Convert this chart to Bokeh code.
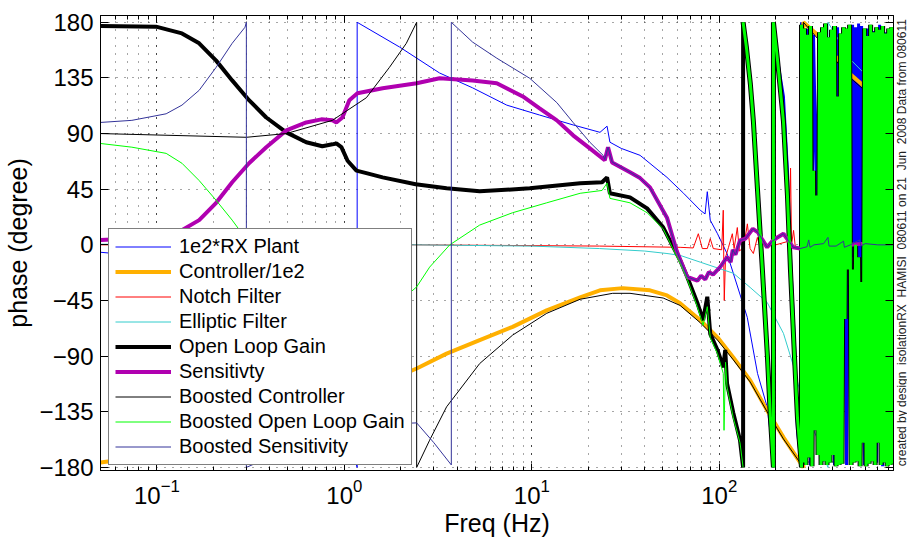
from math import pi

from bokeh.embed import file_html
from bokeh.layouts import row
from bokeh.models import FixedTicker, Label, LinearAxis, LogAxis, LogTicker
from bokeh.plotting import figure
from bokeh.resources import INLINE

FONT = "Liberation Sans"

# ---------------------------------------------------------------- data (Hz, degree)
plant_freq = [0.05, 0.1, 0.2, 0.4, 0.7, 1.0, 1.17, 1.17, 1.97, 3.22, 4.83, 7.35, 11.0,
              16.6, 23.1, 25.2, 26.1, 30.0, 37.8, 52.6, 64.5, 79.2, 84.0, 86.3, 89.5,
              97.8, 110.0, 118.8, 141.0, 160.0, 180.0, 194.0, 194.0]
plant_phase = [-6, -10, -22, -45, -90, -145, -180, 180, 160, 139, 127, 113, 105,
               97, 91, 96, 83, 78, 72.4, 54.6, 41.7, 28, 25, 43, 20,
               9, -7, -23, -58.6, -104, -131, -174, -180]
plant_hf_freq = [194.0, 204.3, 219.9, 231.0, 239.7, 251.8, 261.3, 274.5, 274.5, 284.8,
                 295.5, 306.7, 318.2, 330.2, 342.6, 355.5, 368.8, 382.7, 397.1, 412.0,
                 427.5, 443.6, 460.3, 477.6, 495.6, 504.8, 514.2, 523.8, 533.6, 543.5,
                 553.6, 563.9, 574.4, 596.0, 618.4, 641.7, 665.8, 690.8, 716.8, 743.8,
                 771.7, 800.7, 830.8, 846.3]
plant_hf_phase = [180, 150, 120, 60, -10, -80, -150, -180, 180, -170,
                  175, -178, 170, 40, 172, -175, 178, -160, 100, -178,
                  176, -150, 174, -178, 170, -20, 178, -10, 176, -30,
                  179, -40, 177, -178, 175, 90, 173, -176, 178, -179,
                  172, -175, 170, -160]

ctrl_freq = [0.05, 0.1, 0.3, 1.0, 2.43, 3.51, 5.27, 7.9, 12.0, 18.1, 23.1, 30.6, 42.7,
             52.6, 61.8, 79.2, 97.8, 118.8, 146.3, 180.0, 220.0, 281.0, 281.0, 334.0,
             500.0, 697.0, 850.0]
ctrl_phase = [-176, -170, -155, -125, -100, -88, -77, -66.3, -53, -42.5, -36.8, -35, -36.8,
              -40.9, -47.3, -61, -74.8, -91, -109.6, -133.9, -155.7, -180, 180, 170,
              138, 119, 111]

notch_freq = [0.05, 2.43, 23.0, 61.8, 72.6, 77.3, 81.2, 86.3, 89.5, 92.9, 103.0, 105.0,
              105.8, 106.3, 108.0, 112.0, 117.4, 120.0, 124.8, 128.0, 135.0, 141.2, 146.0,
              152.0, 159.7, 165.0, 171.8, 180.0, 200.0, 235.0, 240.0, 243.0, 249.0, 255.0,
              280.0, 295.6, 300.0, 306.8, 320.0, 850.0]
notch_phase = [0, 0, -1, -2, -2.5, 9, -3, -3, 5, -3, -4, 28,
               -20, -45, -10, -2, 9, -3, 14, -5, -2, 17, -3,
               -7, 6, -2, 3.6, -1, 0, 3, 62, 0, 11.7, -3,
               -2, 1, -18, -5, 0, 0]

ellip_freq = [0.05, 2.43, 10.0, 23.0, 40.0, 52.6, 61.8, 79.2, 119.0, 146.0, 180.0, 220.0,
              250.0, 270.0, 300.0, 340.0, 380.0, 380.0, 500.0, 850.0]
ellip_phase = [0.5, 0, -1, -3, -5, -7, -8.5, -14, -23, -34.4, -46.5, -71.6,
               -99, -119, -140, -160, -180, 180, 150, 115]

olg_freq = [0.05, 0.0988, 0.136, 0.168, 0.207, 0.252, 0.310, 0.383, 0.490, 0.626, 0.763,
            0.863, 0.906, 0.964, 1.04, 1.16, 1.31, 1.60, 2.4, 3.51, 5.27, 9.75, 18.1,
            23.7, 25.2, 26.1, 33.4, 41.2, 50.2, 61.8, 67.5, 76.4, 82.0, 86.3, 89.5, 97.8,
            105.0, 107.6, 110.0, 118.8, 129.0, 134.0, 134.0]
olg_phase = [177, 176.5, 171, 163, 149, 133, 117, 103, 91, 83, 79.7,
             81.3, 82, 79, 68, 60, 58, 54.6, 49, 45.7, 43.3, 45.7, 49.9,
             50.6, 54.6, 41.7, 38.4, 29.5, 14.2, -12.5, -26, -47, -61, -42, -72, -85,
             -99, -85, -112, -136, -158, -180, 180]
# above ~134 Hz the boost no longer matters: both open loop gains share these points
olg_hf_freq = [134.0, 139.5, 146.5, 152.0, 159.7, 169.8, 180.6, 187.4, 194.5, 194.5,
               204.3, 219.9, 231.0, 239.7, 251.8, 261.3, 274.5, 274.5, 279.6, 284.8,
               290.1, 295.5, 301.0, 306.7, 312.4, 318.2, 324.1, 330.2, 336.3, 342.6,
               349.0, 355.5, 362.1, 368.8, 375.7, 382.7, 389.8, 397.1, 404.5, 412.0,
               419.7, 427.5, 435.5, 443.6, 451.9, 460.3, 468.9, 477.6, 486.5, 495.6,
               504.8, 514.2, 523.8, 533.6, 543.5, 553.6, 563.9, 574.4, 585.1, 596.0,
               607.1, 618.4, 629.9, 641.7, 653.6, 665.8, 678.2, 690.8, 703.7, 716.8,
               730.2, 743.8, 757.6, 771.7, 786.1, 800.7, 815.6, 830.8, 846.3]
olg_hf_phase = [180, 160, 130, 100, 46, -20, -90, -140, -180, 180,
                150, 100, 40, -20, -90, -140, -180, 178, -176, 175,
                -178, 170, -172, 177, -179, 60, -150, 40, -170, 172,
                -178, 176, -175, 179, -178, 168, -176, 174, -170, 177,
                -179, 120, -178, 171, -177, 176, -60, 175, -20, 178,
                -178, -20, -176, 0, -175, -10, -179, -30, -160, 175,
                -179, 169, -177, 178, -175, 172, -178, 176, -160, 174,
                -178, 177, -176, 171, -179, 175, -178, 176, -177]

sens_freq = [0.05, 0.1, 0.126, 0.168, 0.207, 0.252, 0.310, 0.383, 0.490, 0.626, 0.753,
             0.863, 0.906, 0.976, 1.063, 1.174, 1.60, 2.43, 3.22, 4.83, 6.50, 8.95, 11.0,
             13.6, 16.6, 20.4, 24.5, 25.5, 26.8, 33.4, 37.8, 42.7, 52.6, 59.3, 67.5, 76.4,
             80.0, 84.2, 88.0, 92.6, 101.0, 110.0, 115.0, 118.0, 122.0, 129.0, 138.0,
             151.0, 161.0, 170.0, 180.0, 192.0, 204.0, 220.0, 235.0, 248.0, 270.0, 294.0,
             320.0, 360.0, 420.0, 500.0, 600.0, 700.0, 850.0]
sens_phase = [4, 6, 9, 20, 34, 50.6, 66, 79, 92.6, 99, 101.5,
              100.7, 99, 103, 117, 122.6, 126.6, 130.7, 134.7, 133, 130.7, 120, 110.4,
              100.7, 88.6, 78, 68.4, 79, 66.7, 58.7, 54, 46.5, 22, -5, -26, -29,
              -25, -28, -22, -24, -18, -10, -14, -4, -8, 3.6, 5,
              13, 10, 4, -2, 3, 6, 9, 3, -2, -3, -1.5,
              0, 1, -1, 0, 1, 0, 0]

bctrl_freq = [0.05, 0.3, 0.49, 0.863, 1.31, 1.74, 2.14, 2.43, 2.43, 2.85, 3.51, 5.27,
              7.9, 12.0, 18.1, 27.0, 33.4, 50.2, 61.8, 79.2, 97.8, 118.8, 146.3, 180.0,
              220.0, 281.0, 281.0, 334.0, 500.0, 697.0, 850.0]
bctrl_phase = [90, 87, 90, 100.7, 119, 143.6, 163, 180, -180, -158, -131, -96,
               -73, -55.4, -44, -39.2, -39.2, -43, -49, -63, -77, -93, -111, -135,
               -157, -180, 180, 167, 135, 116, 108]

bolg_freq = [0.05, 0.0735, 0.112, 0.136, 0.168, 0.207, 0.252, 0.285, 0.4, 0.7, 1.0, 1.5,
             2.0, 2.43, 2.85, 3.65, 5.27, 7.9, 12.0, 18.1, 23.7, 25.2, 26.1, 33.4, 41.2,
             50.2, 61.8, 67.5, 76.4, 82.0, 86.3, 89.5, 97.8, 105.0, 106.0, 108.0, 110.0,
             118.8, 129.0, 134.0]
bolg_phase = [82, 79, 74, 66, 52, 36, 20, 9, -15, -45, -60, -55,
              -45, -34, -18, 0, 16, 26, 34, 41.7, 44, 50, 37.6, 34, 26,
              13, -15, -28, -50, -65, -50, -75, -88, -104, -150, -95, -115,
              -140, -160, -180]

bsens_freq = [0.05, 0.0735, 0.112, 0.136, 0.168, 0.207, 0.252, 0.295, 0.30, 0.30, 0.6,
              1.0, 1.6, 2.43, 3.0, 3.72, 3.72, 4.83, 6.50, 9.75, 13.6, 16.6, 20.4, 24.0,
              24.5, 25.5, 26.8, 33.4, 37.8, 42.7, 52.6, 59.3, 67.5, 76.4, 80.0, 84.2, 88.0,
              92.6, 101.0, 110.0, 115.0, 118.0, 122.0, 129.0, 138.0, 151.0, 161.0, 170.0,
              180.0, 192.0, 204.0, 220.0, 235.0, 248.0, 270.0, 294.0, 300.0, 305.0, 320.0,
              360.0, 380.0, 385.0, 420.0, 460.0, 465.0, 500.0, 560.0, 570.0, 600.0, 700.0,
              850.0]
bsens_phase = [99, 100.7, 106, 113, 125, 143.6, 163, 176, 180, -180, -160,
               -150, -145, -144, -160, -178, 180, 164, 151, 134.7, 115, 99, 83, 72.4,
               69, 79, 67, 58.7, 54, 46, 22, -5, -26, -29, -25, -28, -22,
               -24, -18, -10, -14, -4, -8, 3.6, 5, 13, 10, 4,
               -2, 3, 6, 9, 3, -2, -3, -1.5, 4, -2, 0,
               1, 6, -1, -1, 3, -2, 0, 4, -1, 1, 0,
               0]

phase_ticks = [-180, -135, -90, -45, 0, 45, 90, 135, 180]
stamp = "created by design_isolationRX_HAMISI_080611 on 21_Jun_2008 Data from 080611"

# ---------------------------------------------------------------- figure
p = figure(width=895, height=540, x_axis_type="log",
           x_range=(0.05, 850), y_range=(-182.5, 185.5),
           output_backend="svg", toolbar_location=None,
           min_border_left=100, min_border_right=2,
           min_border_top=15, min_border_bottom=70,
           background_fill_color="white", border_fill_color="white")
p.outline_line_color = "black"
p.outline_line_width = 1

xax = p.xaxis[0]
xax.ticker = LogTicker(mantissas=[1], num_minor_ticks=10)
xax.axis_label = "Freq (Hz)"
yax = p.yaxis[0]
yax.ticker = FixedTicker(ticks=phase_ticks, minor_ticks=[])
yax.axis_label = "phase (degree)"

for ax in (xax, yax):
    ax.axis_line_color = "black"
    ax.major_tick_line_color = "black"
    ax.minor_tick_line_color = "black"
    ax.major_tick_out = 0
    ax.minor_tick_out = 0
    ax.major_label_text_font = FONT
    ax.major_label_text_font_size = "24px"
    ax.major_label_text_color = "black"
    ax.axis_label_text_font = FONT
    ax.axis_label_text_font_size = "25px"
    ax.axis_label_text_font_style = "normal"
    ax.axis_label_text_color = "black"
xax.major_tick_in = 7
xax.minor_tick_in = 4
xax.major_label_standoff = 8
xax.axis_label_standoff = 2
yax.major_tick_in = 8
yax.minor_tick_in = 0
yax.major_label_standoff = 7
yax.axis_label_standoff = 4

# box ticks on the top and right edges (labels kept invisible)
top = LogAxis(ticker=LogTicker(mantissas=[1], num_minor_ticks=10),
              major_tick_in=7, major_tick_out=0, minor_tick_in=4, minor_tick_out=0,
              major_label_text_font_size="1px", major_label_text_alpha=0,
              major_label_standoff=0, axis_line_color="black")
right = LinearAxis(ticker=FixedTicker(ticks=phase_ticks, minor_ticks=[]),
                   major_tick_in=8, major_tick_out=0, minor_tick_in=0, minor_tick_out=0,
                   major_label_text_font_size="1px", major_label_text_alpha=0,
                   major_label_standoff=0, axis_line_color="black")
p.add_layout(top, "above")
p.add_layout(right, "right")

p.xgrid.grid_line_color = "black"
p.xgrid.grid_line_dash = "1 7"
p.xgrid.grid_line_alpha = 0.7
p.xgrid.minor_grid_line_color = "black"
p.xgrid.minor_grid_line_dash = "1 7"
p.xgrid.minor_grid_line_alpha = 0.7
p.ygrid.grid_line_color = "black"
p.ygrid.grid_line_dash = "1 7"
p.ygrid.grid_line_alpha = 0.7

# ---------------------------------------------------------------- curves
BLUE, ORANGE, RED, CYAN = "#0000ff", "#ffb000", "#ff0000", "#33cccc"
MAGENTA, GREEN, NAVY = "#b000b0", "#00ff00", "#333399"

p.line(plant_freq, plant_phase, line_color=BLUE, line_width=1, legend_label="1e2*RX Plant")
p.line(plant_hf_freq, plant_hf_phase, line_color=BLUE, line_width=3)
p.line(ctrl_freq, ctrl_phase, line_color=ORANGE, line_width=4, legend_label="Controller/1e2")
p.line(notch_freq, notch_phase, line_color=RED, line_width=1, legend_label="Notch Filter")
p.line(ellip_freq, ellip_phase, line_color=CYAN, line_width=1, legend_label="Elliptic Filter")
p.line(olg_freq, olg_phase, line_color="black", line_width=4, legend_label="Open Loop Gain")
p.line(olg_hf_freq, olg_hf_phase, line_color="black", line_width=5)
p.line(sens_freq, sens_phase, line_color=MAGENTA, line_width=4, legend_label="Sensitivty")
p.line(bctrl_freq, bctrl_phase, line_color="black", line_width=1, legend_label="Boosted Controller")
p.line(bolg_freq, bolg_phase, line_color=GREEN, line_width=1, legend_label="Boosted Open Loop Gain")
p.line(olg_hf_freq, olg_hf_phase, line_color=GREEN, line_width=3)
p.line(bsens_freq, bsens_phase, line_color=NAVY, line_width=1, legend_label="Boosted Sensitivity")

leg = p.legend[0]
leg.location = (8, 5)
leg.border_line_color = "black"
leg.border_line_width = 1
leg.background_fill_color = "white"
leg.background_fill_alpha = 1.0
leg.label_text_font = FONT
leg.label_text_font_size = "20px"
leg.label_text_color = "black"
leg.glyph_width = 56
leg.glyph_height = 23
leg.label_height = 23
leg.spacing = 2
leg.padding = 6
leg.label_standoff = 8
leg.margin = 0

# narrow strip on the right carrying the vertical creation stamp
strip = figure(width=12, height=540, x_range=(0, 1), y_range=(0, 540),
               output_backend="svg", toolbar_location=None, min_border=0,
               background_fill_color="white", border_fill_color="white")
strip.xaxis.visible = False
strip.yaxis.visible = False
strip.xgrid.visible = False
strip.ygrid.visible = False
strip.outline_line_color = None
strip.add_layout(Label(x=0.5, y=5, angle=pi / 2, text=stamp,
                       text_font=FONT, text_font_size="12px", text_color="#222222",
                       text_align="left", text_baseline="middle"))

page = row(p, strip, spacing=0)
open("out.html", "w").write(file_html(page, INLINE))
